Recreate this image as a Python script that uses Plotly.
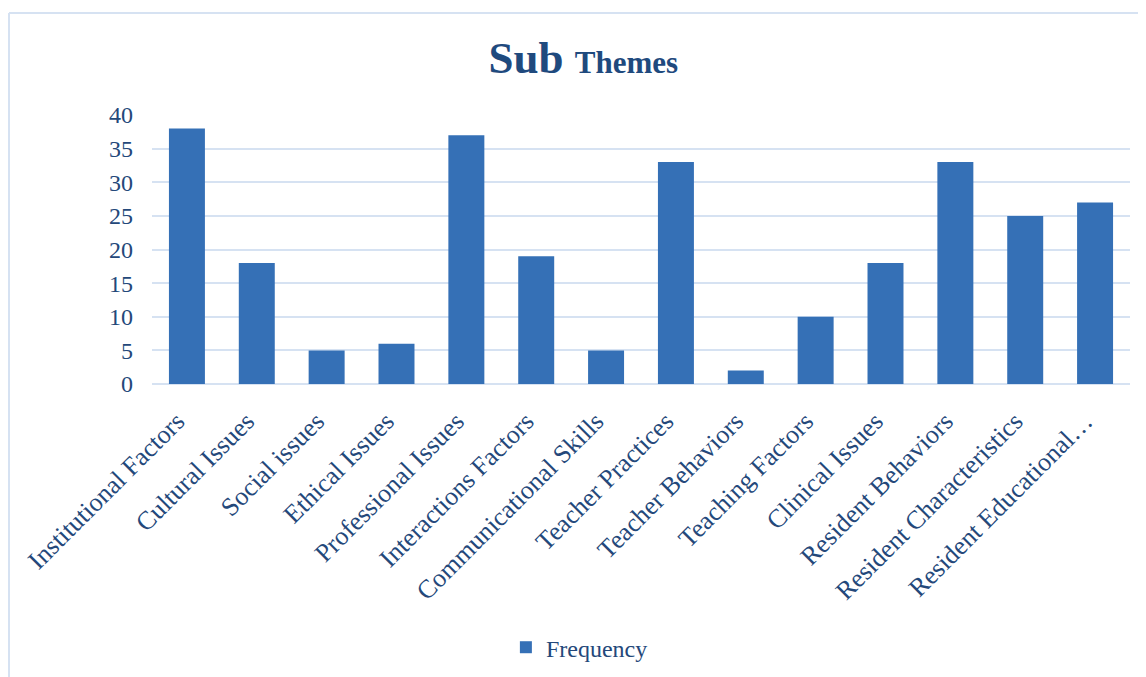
import plotly.graph_objects as go

categories = ["Institutional Factors", "Cultural Issues", "Social issues", "Ethical Issues",
              "Professional Issues", "Interactions Factors", "Communicational Skills",
              "Teacher Practices", "Teacher Behaviors", "Teaching Factors", "Clinical Issues",
              "Resident Behaviors", "Resident Characteristics", "Resident Educational…"]
frequency = [38, 18, 5, 6, 37, 19, 5, 33, 2, 10, 18, 33, 25, 27]
y_ticks = [0, 5, 10, 15, 20, 25, 30, 35, 40]

FONT = "Liberation Serif, Times New Roman, serif"
TXT = "#24487A"
GRID = "#D6E2F2"

# page geometry of the plot area (page offset of 8 px)
PL, PB, PW, PH = 152, 384, 978, 269

fig = go.Figure()
fig.add_trace(go.Bar(
    x=categories, y=frequency, name="Frequency",
    marker=dict(color="#3570B6", line=dict(width=0)),
    showlegend=True,
))

fig.update_layout(
    width=1146, height=677,
    margin=dict(l=144, r=24, t=107, b=301),
    paper_bgcolor="white", plot_bgcolor="white",
    bargap=0.485,
    font=dict(family=FONT, color=TXT, size=24),
    title=dict(
        text="<b>Sub <span style='font-size:31px'>Themes</span></b>",
        font=dict(family=FONT, size=45, color="#1F4A7E"),
        x=0.502, xanchor="center", xref="container",
        y=0.927, yanchor="middle", yref="container",
    ),
    xaxis=dict(
        tickangle=-45, tickfont=dict(size=26, color=TXT, family=FONT),
        showgrid=False, showline=False, ticks="", ticklabelstandoff=16,
        ticklabelshift=-10,
    ),
    yaxis=dict(
        range=[0, 40], tickvals=y_ticks, tickfont=dict(size=24, color=TXT, family=FONT),
        showgrid=True, gridcolor=GRID, gridwidth=2, zeroline=True, zerolinecolor=GRID,
        zerolinewidth=2, showline=False, ticks="", ticklabelstandoff=18,
    ),
    legend=dict(
        orientation="h", x=0.437, xanchor="center", xref="paper",
        y=-0.98, yanchor="middle", font=dict(size=24, color=TXT, family=FONT),
        itemwidth=30,
    ),
    shapes=[
        dict(type="line", xref="paper", yref="paper",
             x0=(9 - PL) / PW, x1=(9 - PL) / PW,
             y0=(PB - 13) / PH, y1=(PB - 700) / PH,
             line=dict(color=GRID, width=2)),
        dict(type="line", xref="paper", yref="paper",
             x0=(9 - PL) / PW, x1=(1160 - PL) / PW,
             y0=(PB - 13) / PH, y1=(PB - 13) / PH,
             line=dict(color=GRID, width=2)),
    ],
)

fig.write_html("out.html")
